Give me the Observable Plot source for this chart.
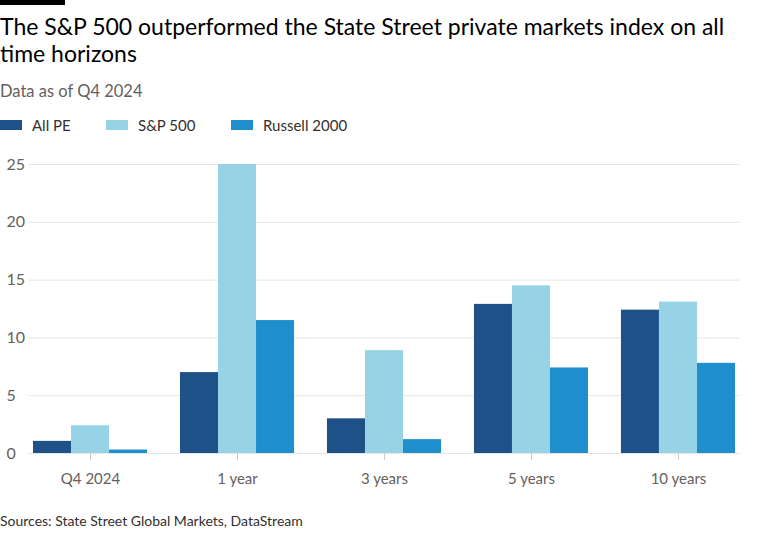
<!DOCTYPE html>
<html><head><meta charset="utf-8">
<script src="https://cdn.jsdelivr.net/npm/d3@7"></script>
<script src="https://cdn.jsdelivr.net/npm/@observablehq/plot@0.6"></script>
<style>
body{margin:0;background:#fff;font-family:Lato,"Noto Sans",sans-serif;}
#wrap{position:relative;width:768px;height:549px;overflow:hidden;background:#fff;}
#bar{position:absolute;left:0;top:0;width:65px;height:5px;background:#000;}
#title{position:absolute;left:0;top:13px;width:760px;font-size:23px;line-height:27px;color:#000;}
#sub{position:absolute;left:0;top:81px;font-size:16.5px;color:#66605c;}
.lg{position:absolute;top:115px;font-size:15px;color:#33302e;display:flex;align-items:center;height:20px;}
.sw{display:inline-block;width:22px;height:10px;margin-right:10px;}
#grid,#chart{position:absolute;left:0;top:140px;}
#src{position:absolute;left:0;top:512px;font-size:14px;color:#33302e;}
</style></head>
<body><div id="wrap">
<div id="bar"></div>
<div id="title">The S&amp;P 500 outperformed the State Street private markets index on all<br>time horizons</div>
<div id="sub">Data as of Q4 2024</div>
<div id="legend"></div>
<div id="grid"></div>
<div id="chart"></div>
<div id="src">Sources: State Street Global Markets, DataStream</div>
</div>
<script>
const categories = ["Q4 2024", "1 year", "3 years", "5 years", "10 years"];
const series = ["All PE", "S&P 500", "Russell 2000"];
const allPE = [1.05, 7.0, 3.0, 12.9, 12.4];
const sp500 = [2.4, 25.0, 8.9, 14.5, 13.1];
const russell2000 = [0.3, 11.5, 1.2, 7.4, 7.8];
const yTicks = [0, 5, 10, 15, 20, 25];
const colors = ["#1f5189", "#96d3e6", "#1e8fcc"];

const valuesBySeries = [allPE, sp500, russell2000];
const data = [];
categories.forEach((c, i) => series.forEach((s, j) => data.push({category: c, series: s, value: valuesBySeries[j][i]})));

// legend
const legendX = [0, 106, 231];
const lg = document.getElementById("legend");
series.forEach((s, j) => {
  const d = document.createElement("div");
  d.className = "lg";
  d.style.left = legendX[j] + "px";
  d.innerHTML = `<span class="sw" style="background:${colors[j]}"></span>${s.replace("&","&amp;")}`;
  lg.appendChild(d);
});

const common = {
  width: 768,
  height: 360,
  marginLeft: 28,
  marginRight: 28,
  marginTop: 24,
  marginBottom: 47,
  y: {domain: [0, 25], label: null},
  style: {fontFamily: 'Lato, "Noto Sans", sans-serif', background: "transparent", overflow: "visible"}
};

// background: continuous gridlines + y axis
const grid = Plot.plot({
  ...common,
  style: {...common.style, background: "#fff"},
  marks: [
    Plot.ruleY(yTicks, {stroke: "#e6e6e6"}),
    Plot.axisY({ticks: yTicks, tickSize: 0, tickPadding: 0, textAnchor: "start", dx: -22, fontSize: 16, fill: "#66605c", label: null})
  ]
});
document.getElementById("grid").appendChild(grid);

// foreground: grouped bars
const chart = Plot.plot({
  ...common,
  fx: {domain: categories, paddingInner: 0.224, paddingOuter: 0.034, round: false, label: null},
  x: {domain: series, axis: null, padding: 0, round: false},
  y: {domain: [0, 25], label: null, axis: null},
  color: {domain: series, range: colors},
  marks: [
    Plot.axisFx({anchor: "bottom", tickSize: 7, stroke: "#cccccc", tickPadding: 13, fontSize: 15, fill: "#66605c", label: null}),
    Plot.barY(data, {fx: "category", x: "series", y: "value", fill: "series"})
  ]
});
document.getElementById("chart").appendChild(chart);
</script>
</body></html>
